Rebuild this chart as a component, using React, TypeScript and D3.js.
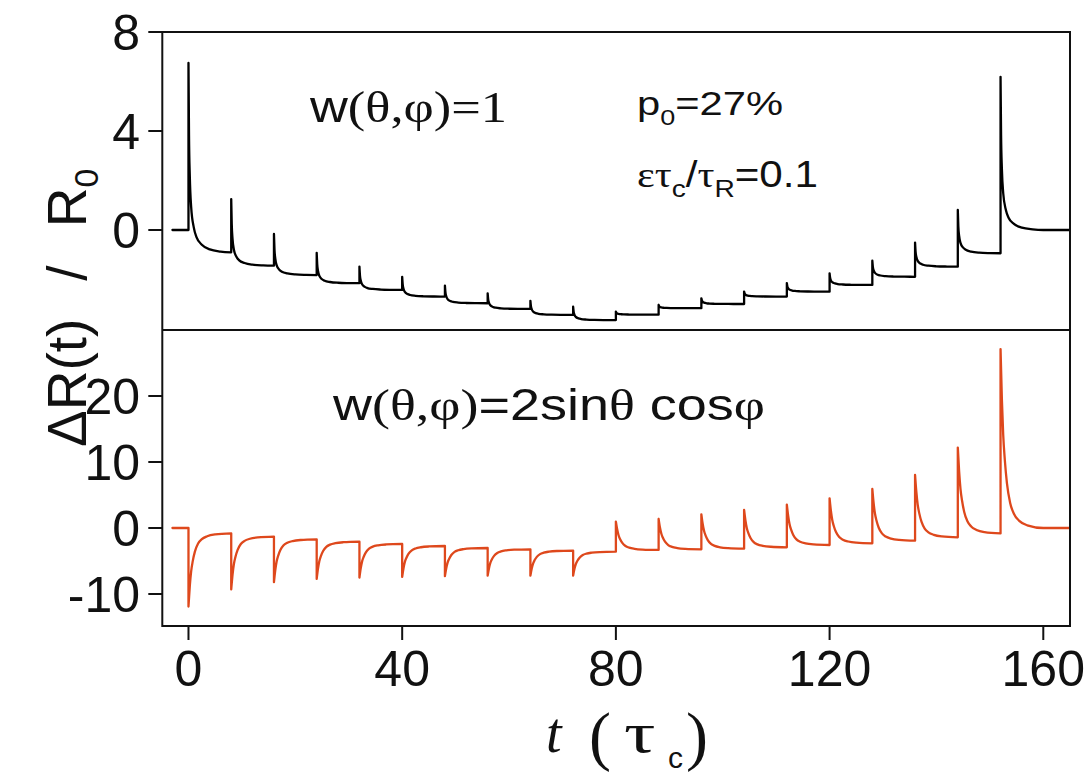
import React from "react";
import * as d3 from "d3";

// ---------- data ----------
const pulseTimes = [0, 8, 16, 24, 32, 40, 48, 56, 64, 72, 80, 88, 96, 104, 112, 120, 128, 136, 144, 152];

// top panel, w(θ,φ)=1 : value at the tip of each spike and level reached just before the next pulse
const topPeaks = [6.75, 1.25, -0.16, -0.92, -1.48, -1.89, -2.25, -2.56, -2.86, -3.1, -3.3, -3.03, -2.76, -2.49, -2.15, -1.75, -1.24, -0.51, 0.81, 6.19];
const topLevels = [-0.9, -1.44, -1.82, -2.15, -2.42, -2.69, -2.96, -3.19, -3.43, -3.64, -3.42, -3.16, -2.99, -2.69, -2.49, -2.22, -1.89, -1.48, -0.94, 0];

// bottom panel, w(θ,φ)=2sinθ cosφ
const bottomPeaks = [-11.9, -9.3, -8.2, -7.7, -7.5, -7.4, -7.3, -7.2, -7.2, -7.2, 0.96, 1.36, 2.07, 2.73, 3.54, 4.49, 5.91, 8.03, 12.17, 27.1];
const bottomLevels = [-0.81, -1.31, -1.72, -2.07, -2.42, -2.73, -3.03, -3.23, -3.43, -3.59, -3.33, -3.23, -3.13, -2.93, -2.58, -2.32, -1.92, -1.41, -0.81, 0];

// relaxation after a pulse: time after the pulse and remaining share of the jump
const topDecayOffsets = [0, 0.1, 0.25, 0.5, 1, 1.5, 2.5, 4, 6, 8];
const topDecayShares = [1, 0.62, 0.4, 0.24, 0.13, 0.08, 0.04, 0.015, 0.004, 0];
const bottomDecayOffsets = [0, 0.25, 0.5, 0.8, 1.2, 1.8, 2.5, 3.5, 5, 8];
const bottomDecayShares = [1, 0.72, 0.52, 0.38, 0.25, 0.14, 0.08, 0.04, 0.015, 0];

const startTime = -3;
const endTime = 165;
const xDomain = [-4.9, 165];
const topDomain = [-4.04, 8];
const bottomDomain = [-14.85, 30];
const topTicks = [8, 4, 0];
const bottomTicks = [20, 10, 0, -10];
const xTicks = [0, 40, 80, 120, 160];

// ---------- layout ----------
const W = 1091;
const H = 776;
const left = 162.3;
const right = 1070;
const top = 32;
const mid = 330;
const bottom = 626;

const SANS = "'Liberation Sans', Arial, sans-serif";
const SERIF = "'Liberation Serif', 'Times New Roman', serif";
const RED = "#DE481C";
const INK = "#111";

type P = [number, number];

function buildPath(
  x: d3.ScaleLinear<number, number>,
  y: d3.ScaleLinear<number, number>,
  peaks: number[],
  levels: number[],
  offsets: number[],
  shares: number[]
): string {
  const lin = d3.line<P>().x((d) => x(d[0])).y((d) => y(d[1]));
  const mono = d3
    .line<P>()
    .x((d) => x(d[0]))
    .y((d) => y(d[1]))
    .curve(d3.curveMonotoneX);
  let d = lin([[startTime, 0], [pulseTimes[0], 0]]) || "";
  pulseTimes.forEach((t, i) => {
    const prev = i === 0 ? 0 : levels[i - 1];
    d += lin([[t, prev], [t, peaks[i]]]) || "";
    const pts: P[] = offsets.map((o, j) => [t + o, levels[i] + (peaks[i] - levels[i]) * shares[j]]);
    if (i === pulseTimes.length - 1) pts.push([endTime, levels[i]]);
    d += mono(pts) || "";
  });
  return d;
}

export default function App() {
  const x = d3.scaleLinear().domain(xDomain).range([left, right]);
  const yTop = d3.scaleLinear().domain(topDomain).range([mid, top]);
  const yBot = d3.scaleLinear().domain(bottomDomain).range([bottom, mid]);

  const topPath = buildPath(x, yTop, topPeaks, topLevels, topDecayOffsets, topDecayShares);
  const botPath = buildPath(x, yBot, bottomPeaks, bottomLevels, bottomDecayOffsets, bottomDecayShares);

  return (
    <svg
      width={W}
      height={H}
      viewBox={`0 0 ${W} ${H}`}
      style={{ position: "absolute", left: 0, top: 0, background: "#fff" }}
    >
      <rect x={0} y={0} width={W} height={H} fill="#fff" />
      <defs>
        <clipPath id="plotClip">
          <rect x={left} y={top} width={right - left} height={bottom - top} />
        </clipPath>
      </defs>

      {/* traces */}
      <g clipPath="url(#plotClip)">
        <path d={topPath} fill="none" stroke="#000" strokeWidth={2.3} strokeLinecap="round" strokeLinejoin="round" />
        <path d={botPath} fill="none" stroke={RED} strokeWidth={2.3} strokeLinecap="round" strokeLinejoin="round" />
      </g>

      {/* frame */}
      <rect x={left} y={top} width={right - left} height={bottom - top} fill="none" stroke={INK} strokeWidth={2} />
      <line x1={left} x2={right} y1={mid} y2={mid} stroke={INK} strokeWidth={2} />

      {/* y ticks top */}
      {topTicks.map((v) => (
        <g key={"tt" + v}>
          <line x1={left - 14} x2={left} y1={yTop(v)} y2={yTop(v)} stroke={INK} strokeWidth={2} />
          <text x={140} y={yTop(v)} dy="0.36em" textAnchor="end" fontFamily={SANS} fontSize={50} fill={INK}>
            {v}
          </text>
        </g>
      ))}
      {/* y ticks bottom */}
      {bottomTicks.map((v) => (
        <g key={"bt" + v}>
          <line x1={left - 14} x2={left} y1={yBot(v)} y2={yBot(v)} stroke={INK} strokeWidth={2} />
          <text x={140} y={yBot(v)} dy="0.36em" textAnchor="end" fontFamily={SANS} fontSize={50} fill={INK}>
            {v}
          </text>
        </g>
      ))}
      {/* x ticks */}
      {xTicks.map((v) => (
        <g key={"xt" + v}>
          <line x1={x(v)} x2={x(v)} y1={bottom + 1} y2={bottom + 14} stroke={INK} strokeWidth={2} />
          <text x={x(v)} y={686} textAnchor="middle" fontFamily={SANS} fontSize={50} fill={INK}>
            {v}
          </text>
        </g>
      ))}

      {/* x label */}
      <text x={546} y={752} fontFamily={SERIF} fontStyle="italic" fontSize={56} fill={INK}>t</text>
      <text x={589} y={758} fontFamily={SERIF} fontSize={66} fill={INK}>(</text>
      <text transform="translate(624,752) scale(1.35,1)" fontFamily={SERIF} fontSize={58} fill={INK}>τ</text>
      <text x={668} y={768} fontFamily={SANS} fontSize={30} fill={INK}>c</text>
      <text x={686} y={758} fontFamily={SERIF} fontSize={66} fill={INK}>)</text>

      {/* y label */}
      <g transform="translate(86,447) rotate(-90)">
        <text x={0} y={0} fill={INK} fontFamily={SANS} fontSize={55}>
          ΔR(t)
          <tspan dx={38}>/</tspan>
          <tspan dx={38}>R</tspan>
          <tspan fontSize={34} dy={12}>0</tspan>
        </text>
      </g>

      {/* annotations */}
      <text x={310} y={122} fill={INK} fontSize={44} textLength={197} lengthAdjust="spacingAndGlyphs">
        <tspan fontFamily={SANS}>w</tspan>
        <tspan fontFamily={SERIF}>(θ,φ)=1</tspan>
      </text>
      <text x={637} y={115} fill={INK} fontFamily={SANS} fontSize={34} textLength={146} lengthAdjust="spacingAndGlyphs">
        p<tspan fontSize={22} dy={10}>0</tspan>
        <tspan dy={-10}>=27%</tspan>
      </text>
      <text x={637} y={187} fill={INK} fontSize={36} textLength={181} lengthAdjust="spacingAndGlyphs">
        <tspan fontFamily={SERIF}>ετ</tspan>
        <tspan fontFamily={SANS} fontSize={24} dy={10}>c</tspan>
        <tspan fontFamily={SANS} dy={-10}>/</tspan>
        <tspan fontFamily={SERIF}>τ</tspan>
        <tspan fontFamily={SANS} fontSize={24} dy={10}>R</tspan>
        <tspan fontFamily={SANS} dy={-10}>=0.1</tspan>
      </text>
      <text x={333} y={420} fill={INK} fontSize={45} textLength={432} lengthAdjust="spacingAndGlyphs">
        <tspan fontFamily={SANS}>w</tspan>
        <tspan fontFamily={SERIF}>(θ,φ)</tspan>
        <tspan fontFamily={SANS}>=2sin</tspan>
        <tspan fontFamily={SERIF}>θ</tspan>
        <tspan fontFamily={SANS}> cos</tspan>
        <tspan fontFamily={SERIF}>φ</tspan>
      </text>
    </svg>
  );
}
